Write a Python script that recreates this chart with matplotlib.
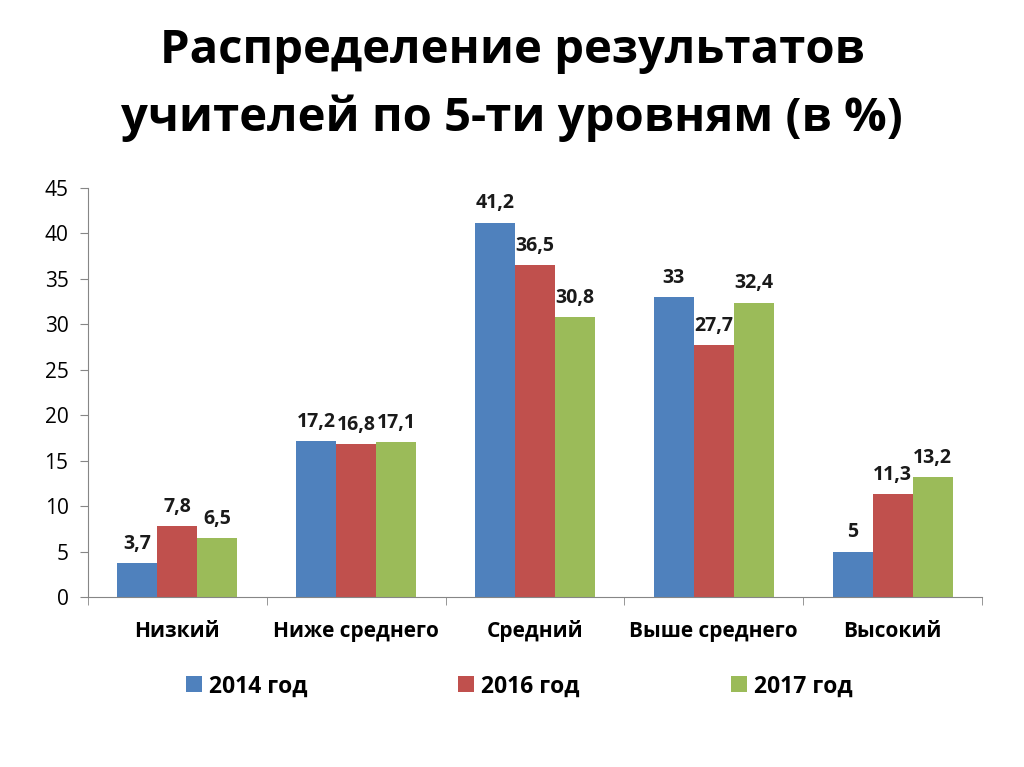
import numpy as np
import matplotlib
matplotlib.use('Agg')
from matplotlib import pyplot as plt

plt.rcParams['font.family'] = ['Open Sans', 'DejaVu Sans']

categories = ['Низкий', 'Ниже среднего', 'Средний', 'Выше среднего', 'Высокий']
series_names = ['2014 год', '2016 год', '2017 год']
v2014 = [3.7, 17.2, 41.2, 33, 5]
v2016 = [7.8, 16.8, 36.5, 27.7, 11.3]
v2017 = [6.5, 17.1, 30.8, 32.4, 13.2]
colors = ['#4F81BD', '#C0504D', '#9BBB59']
title = 'Распределение результатов\nучителей по 5-ти уровням (в %)'


def fmt(v):
    s = ('%g' % v).replace('.', ',')
    return s


fig = plt.figure(figsize=(10.24, 7.67), dpi=100)
ax = fig.add_axes([0.0859, 0.2216, 0.8731, 0.5333])

x = np.arange(len(categories))
w = 0.2235
for i, (vals, name, c) in enumerate(zip([v2014, v2016, v2017], series_names, colors)):
    pos = x + (i - 1) * w
    ax.bar(pos, vals, width=w, color=c, label=name)
    for p, v in zip(pos, vals):
        ax.text(p, v + 1.0, fmt(v), ha='center', va='bottom', fontsize=14,
                fontweight='bold', color='#1a1a1a')

ax.set_xlim(-0.5, len(categories) - 0.5)
ax.set_ylim(0, 45)
ax.set_yticks(np.arange(0, 46, 5))
ax.set_xticks(x)
ax.set_xticklabels(categories, fontsize=15, fontweight='bold')
for lbl in ax.get_xticklabels():
    lbl.set_verticalalignment('baseline')
ax.set_xticks(np.arange(-0.5, len(categories), 1), minor=True)
ax.tick_params(axis='x', which='major', length=0, pad=29)
ax.tick_params(axis='x', which='minor', length=6, color='#868686')
ax.tick_params(axis='y', length=6, color='#868686', labelsize=15, pad=8)
for s in ['top', 'right']:
    ax.spines[s].set_visible(False)
for s in ['left', 'bottom']:
    ax.spines[s].set_color('#868686')

fig.text(0.5, 0.89, title, ha='center', va='center', fontsize=34, fontweight='bold',
         linespacing=1.55)

fig.legend(loc='center', bbox_to_anchor=(0.507, 0.105), ncol=3, frameon=False,
           prop={'size': 16.5, 'weight': 'bold'}, columnspacing=6.6,
           handlelength=0.7, handleheight=0.7, handletextpad=0.3)

plt.savefig('out.png', dpi=100)
